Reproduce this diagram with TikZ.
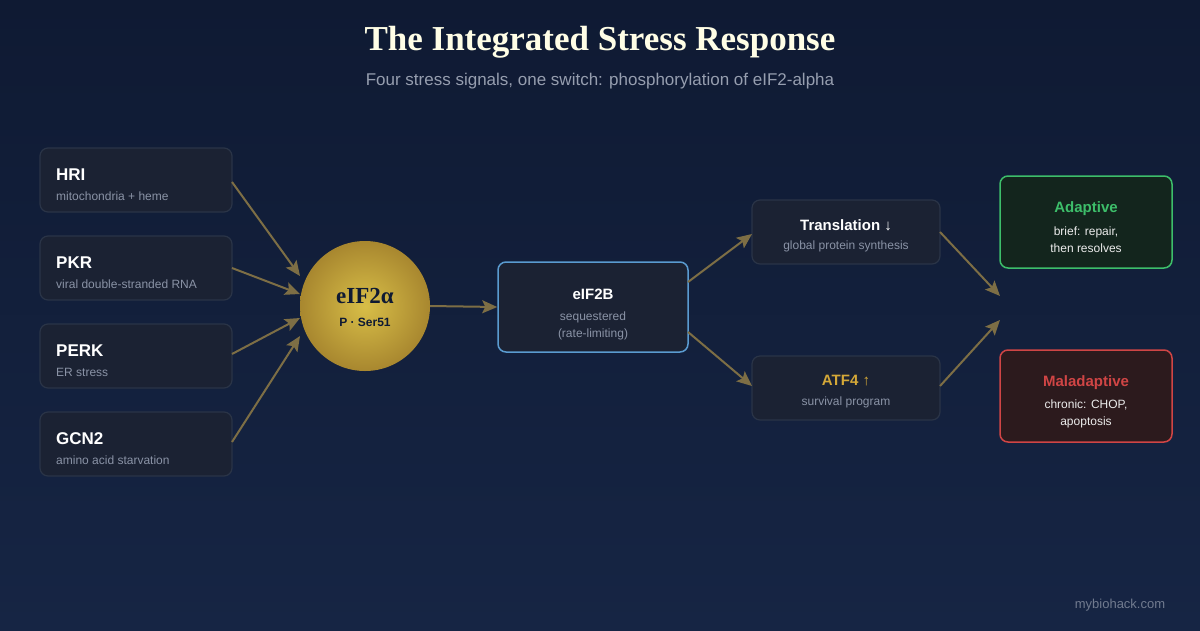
\documentclass[tikz,border=0pt]{standalone}
\usepackage{fontspec}
\setmainfont{Liberation Sans}
\newfontfamily\serifx{Liberation Serif}
\usetikzlibrary{arrows.meta}
\definecolor{bgA}{HTML}{0F1A33}
\definecolor{bgB}{HTML}{162544}
\definecolor{boxf}{HTML}{1B2233}
\definecolor{boxd}{HTML}{2A3447}
\definecolor{subc}{HTML}{8A93A6}
\definecolor{arr}{HTML}{7D6E45}
\definecolor{gold}{HTML}{C9A540}
\definecolor{goldd}{HTML}{A8872F}
\definecolor{blu}{HTML}{5A9BD0}
\definecolor{grn}{HTML}{3DBE6A}
\definecolor{grnf}{HTML}{13251D}
\definecolor{red}{HTML}{D04545}
\definecolor{redf}{HTML}{2C1A1D}
\definecolor{atf}{HTML}{D4A838}
\begin{document}
\begin{tikzpicture}[x=1pt,y=-1pt,
  box/.style={draw=boxd,fill=boxf,rounded corners=8pt,line width=1.2pt},
  ttl/.style={anchor=base west,font=\bfseries\fontsize{17}{20}\selectfont,text=white,inner sep=0},
  sub/.style={anchor=base west,font=\fontsize{12}{14}\selectfont,text=subc,inner sep=0},
  two/.style={font=\fontsize{12}{17}\selectfont,align=center},
  ar/.style={draw=arr,line width=2pt,-{Stealth[length=15pt,width=13pt,inset=3pt]}}]
\useasboundingbox (0,0) rectangle (1200,630);
\shade[top color=bgA,bottom color=bgB] (0,0) rectangle (1200,630);
\node[font=\serifx\bfseries\fontsize{35}{40}\selectfont,text=white!90!yellow] (title) at (600,42) {The Integrated Stress Response};
\node[font=\fontsize{17}{20}\selectfont,text=subc!90!white] (subt) at (600,81) {Four stress signals, one switch: phosphorylation of eIF2-alpha};
% sources
\foreach \n/\y/\t/\s in {hri/148/HRI/mitochondria + heme, pkr/236/PKR/viral double-stranded RNA, perk/324/PERK/ER stress, gcn/412/GCN2/amino acid starvation}{
  \draw[box] (40,\y) rectangle (232,\y+64);
  \node[ttl] (\n t) at (56,\y+32) {\t};
  \node[sub] (\n s) at (56,\y+52) {\s};
}
\shade[inner color=gold!80!yellow!90!white,outer color=goldd] (365,306) circle (65);
\node[circle,minimum size=130pt,inner sep=0] (eif) at (365,306) {};
\node[font=\serifx\bfseries\fontsize{23}{26}\selectfont,text=bgA] (eift) at (365,296) {eIF2α};
\node[font=\bfseries\fontsize{12}{14}\selectfont,text=bgA] (eifs) at (365,322) {P · Ser51};
\coordinate (h1) at (232,182);\coordinate (h2) at (300,276);
\coordinate (p1) at (232,268);\coordinate (p2) at (300,294);
\coordinate (e1) at (232,354);\coordinate (e2) at (300,318);
\coordinate (g1) at (232,442);\coordinate (g2) at (300,336);
\draw[ar] (h1)--(h2);\draw[ar] (p1)--(p2);\draw[ar] (e1)--(e2);\draw[ar] (g1)--(g2);
% eIF2B
\node[draw=blu,fill=boxf,rounded corners=8pt,line width=1.5pt,minimum width=190pt,minimum height=90pt] (b) at (593,307) {};
\node[font=\bfseries\fontsize{15}{18}\selectfont,text=white] (bt) at (593,294) {eIF2B};
\node[two,text=subc] (bs) at (593,326) {sequestered\\(rate-limiting)};
\draw[ar] (eif.east)--(b.west);
% mid
\node[box,minimum width=188pt,minimum height=64pt] (tr) at (846,232) {};
\node[font=\bfseries\fontsize{15}{18}\selectfont,text=white] (trt) at (846,225) {Translation ↓};
\node[font=\fontsize{12}{14}\selectfont,text=subc] (trs) at (846,246) {global protein synthesis};
\node[box,minimum width=188pt,minimum height=64pt] (at) at (846,388) {};
\node[font=\bfseries\fontsize{15}{18}\selectfont,text=atf] (att) at (846,381) {ATF4 ↑};
\node[font=\fontsize{12}{14}\selectfont,text=subc] (ats) at (846,402) {survival program};
\coordinate (b1) at (688,282);\coordinate (b2) at (688,332);
\coordinate (t1) at (752,234);\coordinate (a1) at (752,386);
\draw[ar] (b1)--(t1);\draw[ar] (b2)--(a1);
\coordinate (t2) at (940,232);\coordinate (a2) at (940,386);
\coordinate (m1) at (1000,296);\coordinate (m2) at (1000,320);
\draw[ar] (t2)--(m1);\draw[ar] (a2)--(m2);
% outcomes
\node[draw=grn,fill=grnf,rounded corners=8pt,line width=1.5pt,minimum width=172pt,minimum height=92pt] (ad) at (1086,222) {};
\node[font=\bfseries\fontsize{15}{18}\selectfont,text=grn] (adt) at (1086,209) {Adaptive};
\node[two,text=white!85!gray] (ads) at (1086,240) {brief: repair,\\then resolves};
\node[draw=red,fill=redf,rounded corners=8pt,line width=1.5pt,minimum width=172pt,minimum height=92pt] (ma) at (1086,396) {};
\node[font=\bfseries\fontsize{15}{18}\selectfont,text=red] (mat) at (1086,383) {Maladaptive};
\node[two,text=white!85!gray] (mas) at (1086,414) {chronic: CHOP,\\apoptosis};
\node[font=\fontsize{13}{15}\selectfont,text=subc!80!bgA] (wm) at (1120,605) {mybiohack.com};
\end{tikzpicture}
\end{document}
